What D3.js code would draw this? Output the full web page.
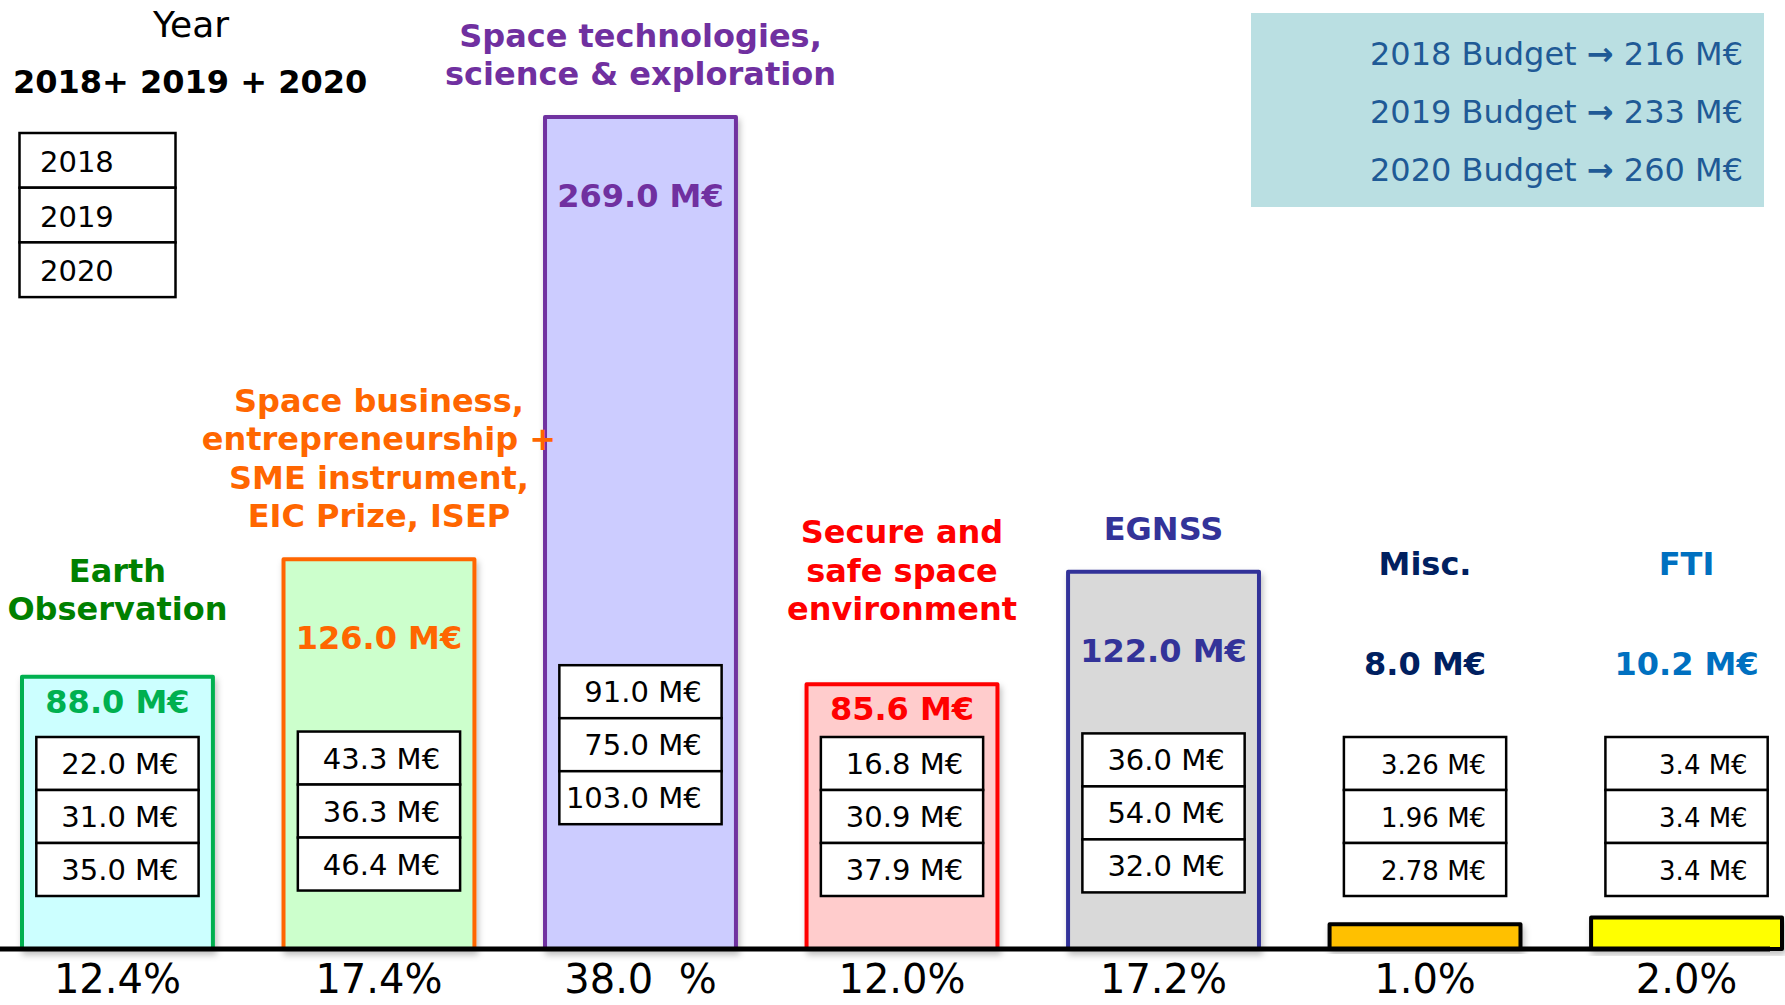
<!DOCTYPE html>
<html>
<head>
<meta charset="utf-8">
<script src="https://cdn.jsdelivr.net/npm/d3@7"></script>
<style>
	body { margin: 0; background: #fff; overflow: hidden; }
	svg { display: block; font-family: "DejaVu Sans", Verdana, sans-serif; }
</style>
</head>
<body>
<div id="chart"></div>
<script>
// ---- data ----
const categories = ["Earth Observation", "Space business", "Space technologies", "Secure and safe space", "EGNSS", "Misc.", "FTI"];
const titleLines = [
	["Earth", "Observation"],
	["Space business,", "entrepreneurship +", "SME instrument,", "EIC Prize, ISEP"],
	["Space technologies,", "science & exploration"],
	["Secure and", "safe space", "environment"],
	["EGNSS"],
	["Misc."],
	["FTI"]
];
const totals = [88.0, 126.0, 269.0, 85.6, 122.0, 8.0, 10.2];
const values2018 = [22.0, 43.3, 91.0, 16.8, 36.0, 3.26, 3.4];
const values2019 = [31.0, 36.3, 75.0, 30.9, 54.0, 1.96, 3.4];
const values2020 = [35.0, 46.4, 103.0, 37.9, 32.0, 2.78, 3.4];
const shareLabels = ["12.4%", "17.4%", "38.0  %", "12.0%", "17.2%", "1.0%", "2.0%"];
const years = ["2018", "2019", "2020"];
const yearBudgets = [216, 233, 260];

// ---- styles ----
const strokeColors = ["#00B050", "#FF6600", "#7030A0", "#FF0000", "#333399", "#000000", "#000000"];
const fillColors = ["#CCFFFF", "#CCFFCC", "#CCCCFF", "#FFCCCC", "#D9D9D9", "#FFC000", "#FFFF00"];
const titleColors = ["#008000", "#FF6600", "#7030A0", "#FF0000", "#333399", "#002060", "#0070C0"];
const totalColors = ["#00B050", "#FF6600", "#7030A0", "#FF0000", "#333399", "#002060", "#0070C0"];

const W = 1785, H = 1005;
const baseY = 949;
const fmtM = v => (Math.abs(v * 10 - Math.round(v * 10)) < 1e-9 ? v.toFixed(1) : v.toFixed(2)) + " M€";

const svg = d3.select("#chart").append("svg")
	.attr("width", W)
	.attr("height", H);

const defs = svg.append("defs");
defs.append("filter")
	.attr("id", "shadow")
	.attr("x", "-10%").attr("y", "-10%").attr("width", "130%").attr("height", "130%")
	.append("feDropShadow")
	.attr("dx", 2).attr("dy", 4).attr("stdDeviation", 3)
	.attr("flood-color", "#000").attr("flood-opacity", 0.25);

const x = d3.scaleBand()
	.domain(categories)
	.range([22, 1782])
	.paddingInner(0.27)
	.paddingOuter(0);
const y = d3.scaleLinear()
	.domain([0, d3.max(totals)])
	.range([baseY, 117]);

const rows = categories.map((c, i) => ({
	cat: c,
	i: i,
	total: totals[i],
	vals: [values2018[i], values2019[i], values2020[i]]
}));

const barLayer = svg.append("g");
const axisLayer = svg.append("g");
const labelLayer = svg.append("g");

// Bars
barLayer.selectAll("rect")
	.data(rows)
	.enter()
	.append("rect")
	.attr("x", d => x(d.cat))
	.attr("y", d => y(d.total))
	.attr("width", x.bandwidth())
	.attr("height", d => y(0) - y(d.total))
	.attr("fill", d => fillColors[d.i])
	.attr("stroke", d => strokeColors[d.i])
	.attr("stroke-width", 4)
	.attr("stroke-linejoin", "round")
	.attr("filter", "url(#shadow)");

// Axis line
axisLayer.append("line")
	.attr("x1", 0).attr("x2", 1770)
	.attr("y1", baseY).attr("y2", baseY)
	.attr("stroke", "#000")
	.attr("stroke-width", 5);

// Layout helpers for the annotations inside / above each bar
const rowH = 53;
const tableW = x.bandwidth() * 0.85;
function layout(d) {
	const top = y(d.total);
	const tableBottom = Math.min(896, top + 0.85 * (baseY - top));
	const tableTop = tableBottom - rowH * 3;
	const hasBox = top < tableTop - 40;
	const totalY = hasBox ? Math.max(top + 36, Math.min(top + 90, tableTop - 28)) : tableTop - 62;
	const titleY = hasBox ? Math.min(top - 32, 620) : totalY - 100;
	return {top, tableTop, totalY, titleY};
}

const groups = labelLayer.selectAll("g.cat")
	.data(rows)
	.enter()
	.append("g")
	.classed("cat", true);

groups.each(function (d) {
	const g = d3.select(this);
	const L = layout(d);
	const cx = x(d.cat) + x.bandwidth() / 2;

	// year tables
	const tx = cx - tableW / 2;
	const valueSize = d.total < 20 ? 26 : 29;
	d.vals.forEach((v, k) => {
		const ry = L.tableTop + k * rowH;
		g.append("rect")
			.attr("x", tx).attr("y", ry)
			.attr("width", tableW).attr("height", rowH)
			.attr("fill", "#fff")
			.attr("stroke", "#000")
			.attr("stroke-width", 2.5);
		g.append("text")
			.attr("x", tx + tableW - 20)
			.attr("y", ry + rowH / 2 + 10.5)
			.attr("text-anchor", "end")
			.attr("font-size", valueSize)
			.attr("fill", "#000")
			.text(fmtM(v));
	});

	// total
	g.append("text")
		.attr("x", cx)
		.attr("y", L.totalY)
		.attr("text-anchor", "middle")
		.attr("font-size", 32)
		.attr("font-weight", "bold")
		.attr("fill", totalColors[d.i])
		.text(fmtM(d.total));

	// category title
	const lines = titleLines[d.i];
	const lh = 38.5;
	const t = g.append("text")
		.attr("text-anchor", "middle")
		.attr("font-size", 32)
		.attr("font-weight", "bold")
		.attr("fill", titleColors[d.i]);
	lines.forEach((ln, k) => {
		t.append("tspan")
			.attr("x", cx)
			.attr("y", L.titleY - (lines.length - 1 - k) * lh)
			.text(ln);
	});

	// share of total below the axis
	g.append("text")
		.attr("x", cx)
		.attr("y", 993)
		.attr("text-anchor", "middle")
		.attr("font-size", 40)
		.attr("fill", "#000")
		.style("white-space", "pre")
		.text(shareLabels[d.i]);
});

// Year legend (top left)
svg.append("text")
	.attr("x", 191).attr("y", 37)
	.attr("text-anchor", "middle")
	.attr("font-size", 36)
	.text("Year");
svg.append("text")
	.attr("x", 13).attr("y", 93)
	.attr("font-size", 32)
	.attr("font-weight", "bold")
	.style("white-space", "pre")
	.text(`${years[0]}+ ${years[1]} + ${years[2]}`);
const legendRowH = 54.7;
years.forEach((yr, k) => {
	svg.append("rect")
		.attr("x", 19.5).attr("y", 133 + k * legendRowH)
		.attr("width", 156).attr("height", legendRowH)
		.attr("fill", "#fff")
		.attr("stroke", "#000")
		.attr("stroke-width", 2.5);
	svg.append("text")
		.attr("x", 40).attr("y", 133 + k * legendRowH + 39)
		.attr("font-size", 29)
		.text(yr);
});

// Yearly budget box (top right)
svg.append("rect")
	.attr("x", 1251).attr("y", 13)
	.attr("width", 513).attr("height", 194)
	.attr("fill", "#BADFE2");
years.forEach((yr, k) => {
	const t = svg.append("text")
		.attr("x", 1743).attr("y", 65 + k * 58)
		.attr("text-anchor", "end")
		.attr("font-size", 32)
		.attr("fill", "#1F5A96")
		.style("white-space", "pre");
	t.append("tspan").text(`${yr} Budget `);
	t.append("tspan").attr("font-weight", "bold").text("→");
	t.append("tspan").text(` ${yearBudgets[k]} M€`);
});
</script>
</body>
</html>
